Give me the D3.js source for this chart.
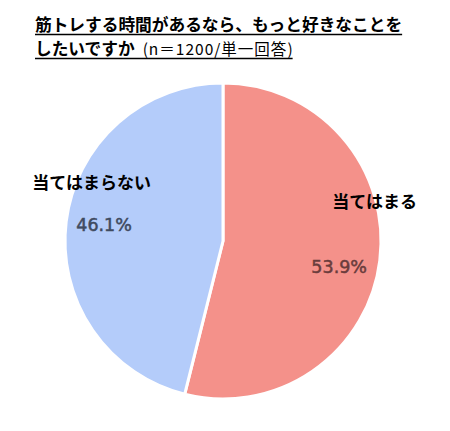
<!DOCTYPE html>
<html><head><meta charset="utf-8">
<script src="https://cdn.jsdelivr.net/npm/d3@7/dist/d3.min.js"></script>
<style>html,body{margin:0;padding:0;background:#fff;}</style>
</head><body>
<svg id="c" width="450" height="431"></svg>
<script>
const categories = ["当てはまる", "当てはまらない"];
const values = [53.9, 46.1];
const valueLabels = ["53.9%", "46.1%"];
const titleLine1 = "筋トレする時間があるなら、もっと好きなことを";
const titleLine2 = "したいですか";
const subtitle = "(n＝1200/単一回答)";

const colors = ["#F4918A", "#B4CCFA"];
const pctColors = ["#6a3c3c", "#3f4a60"];
const cx = 223, cy = 241, R = 158;
// label layout: [angle offset (deg), radius] relative to slice mid angle
const pctLayout = [{da: 5.5, r: 119}, {da: 0.7, r: 120}];
const catLayout = [{da: -22, r: 157}, {da: 17.2, r: 144}];

const svg = d3.select("#c");
const pie = d3.pie().sort(null).value(d => d)(values);
const arc = d3.arc().innerRadius(0).outerRadius(R);
const g = svg.append("g").attr("transform", `translate(${cx},${cy})`);
g.selectAll("path").data(pie).join("path")
  .attr("d", arc).attr("fill", (d, i) => colors[i])
  .attr("stroke", "#fff").attr("stroke-width", 3).attr("stroke-linejoin", "round");

function pos(d, lay) {
  const a = (d.startAngle + d.endAngle) / 2 + lay.da * Math.PI / 180;
  return [lay.r * Math.sin(a), -lay.r * Math.cos(a)];
}
g.selectAll("text.pct").data(pie).join("text").attr("class", "pct")
  .attr("transform", (d, i) => `translate(${pos(d, pctLayout[i])})`)
  .attr("text-anchor", "middle").attr("dominant-baseline", "central")
  .attr("font-family", "DejaVu Sans").attr("font-size", 17.5)
  .attr("stroke", (d, i) => pctColors[i]).attr("stroke-width", 0.5)
  .attr("fill", (d, i) => pctColors[i]).text((d, i) => valueLabels[i]);
g.selectAll("text.cat").data(pie).join("text").attr("class", "cat")
  .attr("transform", (d, i) => `translate(${pos(d, catLayout[i])})`)
  .attr("text-anchor", "middle").attr("dominant-baseline", "central")
  .attr("font-family", "Noto Sans CJK JP").attr("font-weight", "bold").attr("font-size", 17)
  .attr("fill", "#000").text((d, i) => categories[i]);

// title
const tx = 35;
const t1 = svg.append("text").attr("x", tx).attr("y", 31)
  .attr("font-family", "Noto Sans CJK JP").attr("font-weight", "bold").attr("font-size", 16.7)
  .attr("fill", "#000").text(titleLine1);
const t2 = svg.append("text").attr("x", tx).attr("y", 55)
  .attr("font-family", "Noto Sans CJK JP").attr("font-weight", "bold").attr("font-size", 16.7)
  .attr("fill", "#000").text(titleLine2);
const w2 = t2.node().getComputedTextLength();
const subX = tx + w2 + 8;
const t3 = svg.append("text").attr("x", subX).attr("y", 55)
  .attr("font-family", "Noto Sans CJK JP").attr("font-size", 15.5)
  .attr("textLength", 150).attr("lengthAdjust", "spacing")
  .attr("fill", "#000").text(subtitle);
const w1 = t1.node().getComputedTextLength();
svg.append("line").attr("x1", tx).attr("x2", tx + w1).attr("y1", 34.5).attr("y2", 34.5)
  .attr("stroke", "#000").attr("stroke-width", 1.5);
svg.append("line").attr("x1", tx).attr("x2", subX + 150).attr("y1", 58.5).attr("y2", 58.5)
  .attr("stroke", "#000").attr("stroke-width", 1.5);
</script>
</body></html>
